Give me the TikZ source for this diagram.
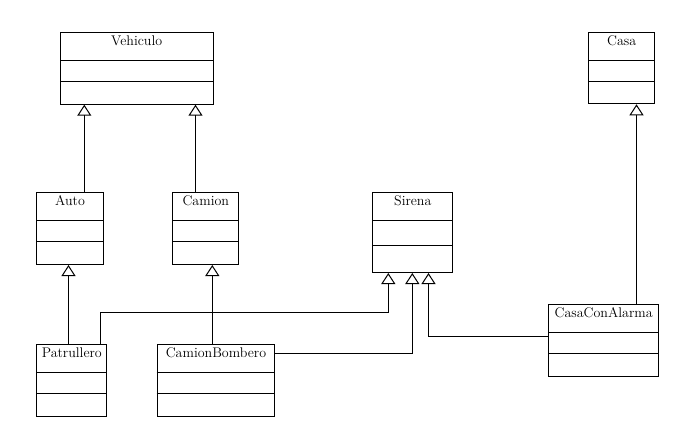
\documentclass[tikz,border=0pt]{standalone}
\usepackage{fontspec}
\usetikzlibrary{arrows.meta,calc}

\tikzset{
  classbox/.style={draw, line width=1pt, inner sep=0pt, anchor=north west},
  classname/.style={font=\fontsize{14}{16}\selectfont, anchor=base, inner sep=0pt},
  divider/.style={line width=1pt},
  inh/.style={-{Triangle[open, length=11pt, width=14pt, line width=1pt]}, line width=1pt},
}

% \umlclass{name}{x}{y}{width}{height}{label}{second divider offset}
\newcommand{\umlclass}[7]{%
  \node[classbox, minimum width=#4pt, minimum height=#5pt] (#1) at (#2,#3) {};
  \node[classname] (#1-name) at ($(#1.north)+(0,13)$) {#6};
  \draw[divider] ($(#1.north west)+(0,28.2)$) -- ($(#1.north east)+(0,28.2)$);
  \draw[divider] ($(#1.north west)+(0,#7)$) -- ($(#1.north east)+(0,#7)$);
}

\begin{document}
\begin{tikzpicture}[x=1pt, y=-1pt]
  \useasboundingbox[fill=white] (0,0) rectangle (688,445);

  % classes
  \umlclass{Vehiculo}{60}{32.3}{152.5}{71.4}{Vehiculo}{49}
  \umlclass{Casa}{588.3}{32.3}{65.7}{71}{Casa}{49}
  \umlclass{Auto}{36.3}{192.3}{66.4}{71.7}{Auto}{49}
  \umlclass{Camion}{172.3}{192.3}{66}{71.7}{Camion}{49}
  \umlclass{Sirena}{372.3}{192.3}{80}{79.7}{Sirena}{53}
  \umlclass{Patrullero}{36.3}{344.3}{70}{71.7}{Patrullero}{49}
  \umlclass{CamionBombero}{156.7}{344.3}{117.6}{71.7}{CamionBombero}{49}
  \umlclass{CasaConAlarma}{548}{304.3}{110.3}{71.7}{CasaConAlarma}{49}

  % generalisations
  \draw[inh] (84.3,0 |- Auto.north) -- (84.3,0 |- Vehiculo.south);
  \draw[inh] (195.5,0 |- Camion.north) -- (195.5,0 |- Vehiculo.south);
  \draw[inh] (68.5,0 |- Patrullero.north) -- (68.5,0 |- Auto.south);
  \draw[inh] (212.3,0 |- CamionBombero.north) -- (212.3,0 |- Camion.south);
  \draw[inh] (636.5,0 |- CasaConAlarma.north) -- (636.5,0 |- Casa.south);

  % realisations of Sirena
  \draw[inh] (100,0 |- Patrullero.north) -- (100,312.3) -| (388.3,0 |- Sirena.south);
  \draw[inh] (CamionBombero.east |- 0,353.3) -| (412.3,0 |- Sirena.south);
  \draw[inh] (CasaConAlarma.west |- 0,336.7) -| (428.5,0 |- Sirena.south);
\end{tikzpicture}
\end{document}
